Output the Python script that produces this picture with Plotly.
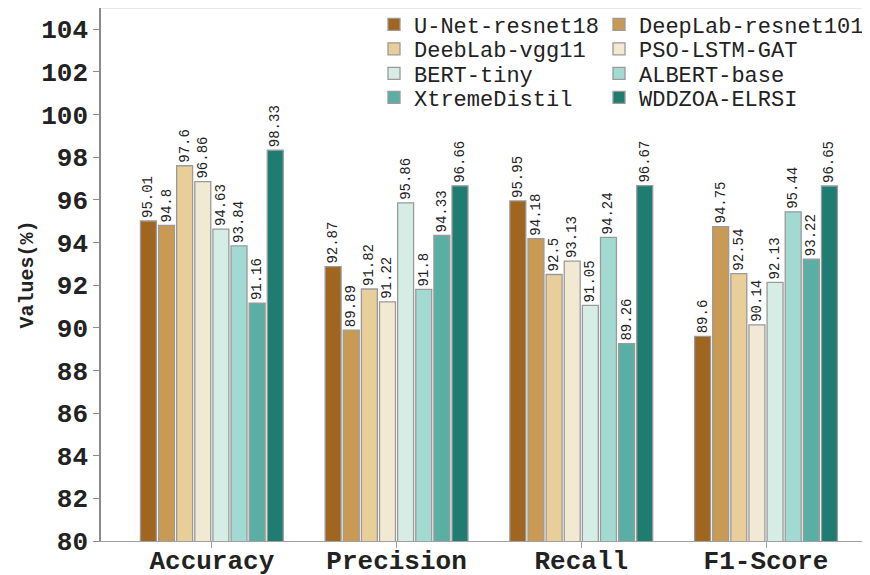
import plotly.graph_objects as go

categories = ["Accuracy", "Precision", "Recall", "F1-Score"]
models = ["U-Net-resnet18", "DeepLab-resnet101", "DeebLab-vgg11", "PSO-LSTM-GAT",
          "BERT-tiny", "ALBERT-base", "XtremeDistil", "WDDZOA-ELRSI"]
unet_resnet18 = [95.01, 92.87, 95.95, 89.6]
deeplab_resnet101 = [94.8, 89.89, 94.18, 94.75]
deeblab_vgg11 = [97.6, 91.82, 92.5, 92.54]
pso_lstm_gat = [96.86, 91.22, 93.13, 90.14]
bert_tiny = [94.63, 95.86, 91.05, 92.13]
albert_base = [93.84, 91.8, 94.24, 95.44]
xtremedistil = [91.16, 94.33, 89.26, 93.22]
wddzoa_elrsi = [98.33, 96.66, 96.67, 96.65]
series = [unet_resnet18, deeplab_resnet101, deeblab_vgg11, pso_lstm_gat,
          bert_tiny, albert_base, xtremedistil, wddzoa_elrsi]
colors = ["#a0651e", "#c99a54", "#e8cf99", "#f2e9d2",
          "#d6ede6", "#a2dad2", "#5aafa5", "#1e7c70"]
y_ticks = list(range(80, 105, 2))
y_title = "Values(%)"

FONT = "Liberation Mono"
W, H = 870, 575

fig = go.Figure()
legend_ids = ["legend"] + [f"legend{k}" for k in range(2, 9)]
for i, (name, vals, col) in enumerate(zip(models, series, colors)):
    fig.add_trace(go.Bar(
        x=categories, y=vals, name=name,
        marker=dict(color=col, line=dict(color="#9a9a9a", width=1.3)),
        text=vals, texttemplate="%{y}", textposition="outside", textangle=-90,
        textfont=dict(family=FONT, size=14, color="#222222"),
        cliponaxis=False, constraintext="none",
        legend=legend_ids[i],
    ))

row_y = [16.5, 41, 65.5, 89.5]
col_x = [366, 591]
legend_cfg = {}
for i, lid in enumerate(legend_ids):
    r, c = divmod(i, 2)
    legend_cfg[lid] = dict(
        orientation="v", xref="container", yref="container",
        x=col_x[c] / W, xanchor="left", y=1 - row_y[r] / H, yanchor="middle",
        font=dict(family=FONT, size=22, color="#222222"),
        bgcolor="rgba(0,0,0,0)", borderwidth=0, itemclick=False,
    )

fig.update_layout(
    width=W, height=H,
    margin=dict(l=93, r=8, t=0, b=42, autoexpand=False),
    plot_bgcolor="white", paper_bgcolor="white",
    barmode="group", bargap=0.215, bargroupgap=0.12,
    font=dict(family=FONT, color="#222222"),
    xaxis=dict(
        range=[-0.6, 3.563], showgrid=False, zeroline=False,
        showline=True, linecolor="#a0a0a0", linewidth=1.3,
        ticks="outside", ticklen=6, tickcolor="#a0a0a0",
        ticklabelstandoff=-10,
        tickfont=dict(family=FONT, size=26, color="#222222", weight="bold"),
    ),
    yaxis=dict(
        range=[80, 105], tickvals=y_ticks, showgrid=False, zeroline=False,
        showline=True, linecolor="#8a8a8a", linewidth=1.5,
        ticks="outside", ticklen=6, tickcolor="#8a8a8a",
        tickfont=dict(family=FONT, size=26, color="#222222", weight="bold"),
    ),
    annotations=[dict(text=y_title, xref="paper", yref="paper", x=0, y=0.5,
                      xanchor="center", yanchor="middle", xshift=-74,
                      textangle=-90, showarrow=False,
                      font=dict(family=FONT, size=20, color="#222222", weight="bold"))],
    showlegend=True,
    shapes=[dict(type="line", xref="paper", yref="paper", x0=0, x1=1, y0=1, y1=1,
                 line=dict(color="#e2e2e2", width=1.5))],
    **legend_cfg,
)

fig.write_html("out.html")
